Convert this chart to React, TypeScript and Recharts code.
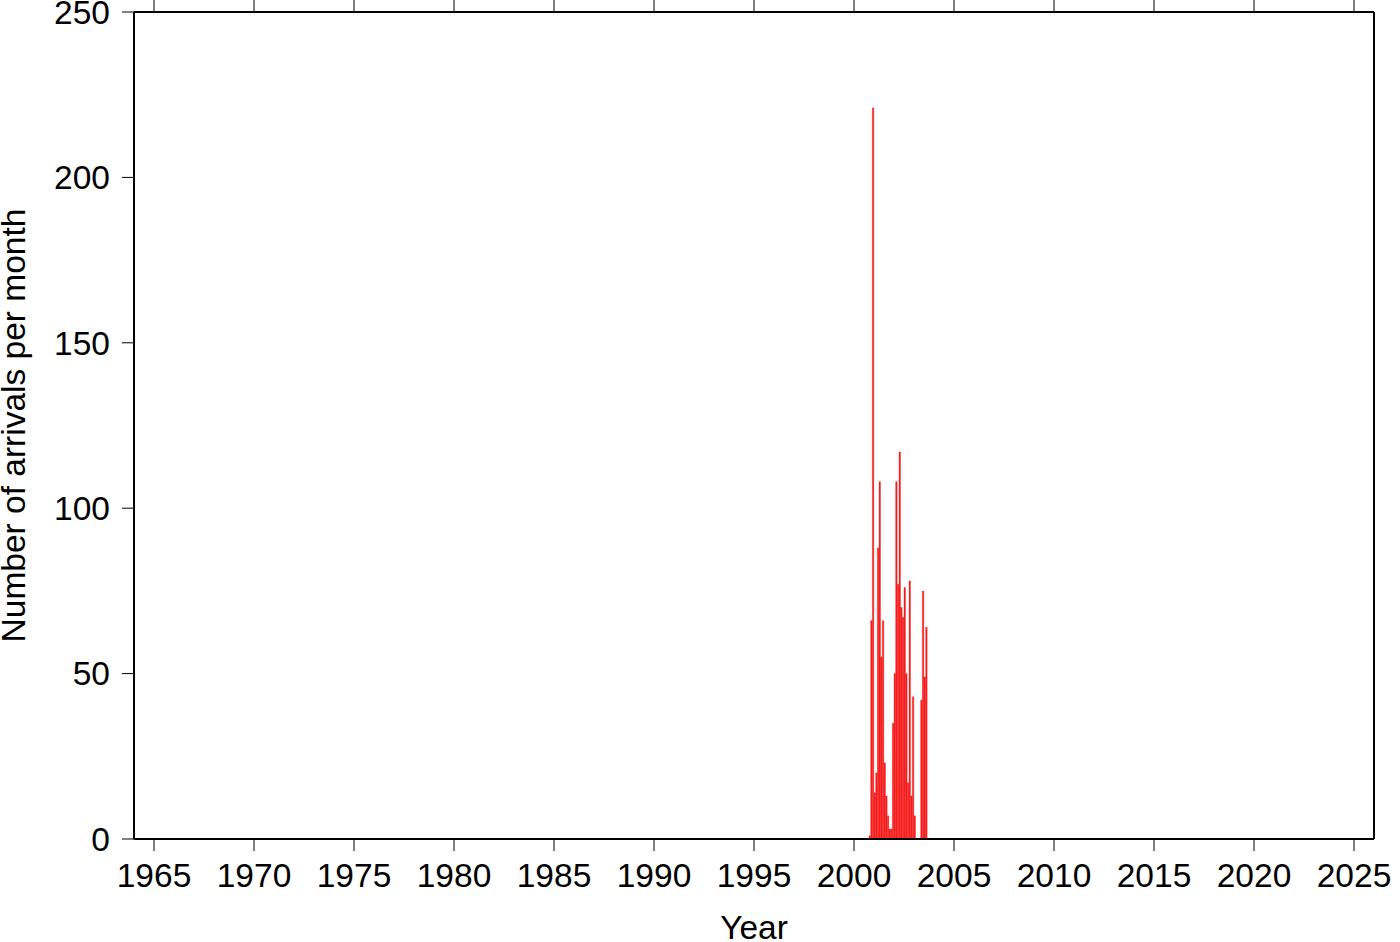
import { Bar, ComposedChart, Label, XAxis, YAxis } from "recharts";

// monthly arrival counts, Oct 2000 .. Aug 2003
const startYear = 2000;
const startMonth = 9; // 0-based, October
const monthlyCounts = [
  1, 66, 221, 14, 20, 88, 108, 55, 66, 23, 13, 7, 3, 3, 35, 50, 108, 77, 117, 70, 67, 76, 50, 17, 78, 13, 43, 7,
  0, 0, 0, 42, 75, 49, 64,
];
const yearTicks = [1965, 1970, 1975, 1980, 1985, 1990, 1995, 2000, 2005, 2010, 2015, 2020, 2025];
const countTicks = [0, 50, 100, 150, 200, 250];

const data = monthlyCounts.map((count, i) => ({
  year: startYear + (startMonth + i) / 12 + 1 / 24,
  count,
}));

const font = "'Liberation Sans', Arial, Helvetica, sans-serif";
const fs = 33.5;
const tickStyle = { fill: "#000", fontSize: fs, fontFamily: font };
const blank = () => "";

export default function App() {
  return (
    <div style={{ position: "absolute", left: 0, top: 0, background: "#fff" }}>
      <ComposedChart width={1400} height={942} data={data} margin={{ top: 0, right: 0, bottom: 0, left: 0 }}>
        <XAxis
          xAxisId="bottom"
          dataKey="year"
          type="number"
          domain={[1964, 2026]}
          ticks={yearTicks}
          interval={0}
          allowDataOverflow
          height={103}
          tickSize={12}
          tickMargin={12}
          tick={tickStyle}
          axisLine={{ stroke: "#000", strokeWidth: 2 }}
          tickLine={{ stroke: "#000", strokeWidth: 1 }}
        >
          <Label
            content={(props: any) => {
              const vb = props.viewBox;
              return (
                <text x={vb.x + vb.width / 2} y={939} textAnchor="middle" fontSize={fs} fontFamily={font} fill="#000">
                  Year
                </text>
              );
            }}
          />
        </XAxis>
        <XAxis
          xAxisId="top"
          orientation="top"
          dataKey="year"
          type="number"
          domain={[1964, 2026]}
          ticks={yearTicks}
          interval={0}
          allowDataOverflow
          height={12}
          tickSize={12}
          tickFormatter={blank}
          axisLine={{ stroke: "#000", strokeWidth: 2 }}
          tickLine={{ stroke: "#000", strokeWidth: 1 }}
        />
        <YAxis
          yAxisId="left"
          domain={[0, 250]}
          ticks={countTicks}
          interval={0}
          width={134}
          tickSize={12}
          tickMargin={12}
          tick={tickStyle}
          axisLine={{ stroke: "#000", strokeWidth: 2 }}
          tickLine={{ stroke: "#000", strokeWidth: 1 }}
        >
          <Label
            content={(props: any) => {
              const vb = props.viewBox;
              const cy = vb.y + vb.height / 2;
              return (
                <text
                  x={25}
                  y={cy}
                  transform={`rotate(-90, 25, ${cy})`}
                  textAnchor="middle"
                  fontSize={fs}
                  fontFamily={font}
                  fill="#000"
                >
                  Number of arrivals per month
                </text>
              );
            }}
          />
        </YAxis>
        <YAxis
          yAxisId="right"
          orientation="right"
          domain={[0, 250]}
          ticks={countTicks}
          interval={0}
          width={26}
          tickSize={12}
          tickFormatter={blank}
          axisLine={{ stroke: "#000", strokeWidth: 2 }}
          tickLine={{ stroke: "#000", strokeWidth: 1 }}
        />
        <Bar
          xAxisId="bottom"
          yAxisId="left"
          dataKey="count"
          barSize={20 / 12}
          fill="#ff2020"
          stroke="#e00000"
          strokeWidth={0.3}
          isAnimationActive={false}
        />
      </ComposedChart>
    </div>
  );
}
